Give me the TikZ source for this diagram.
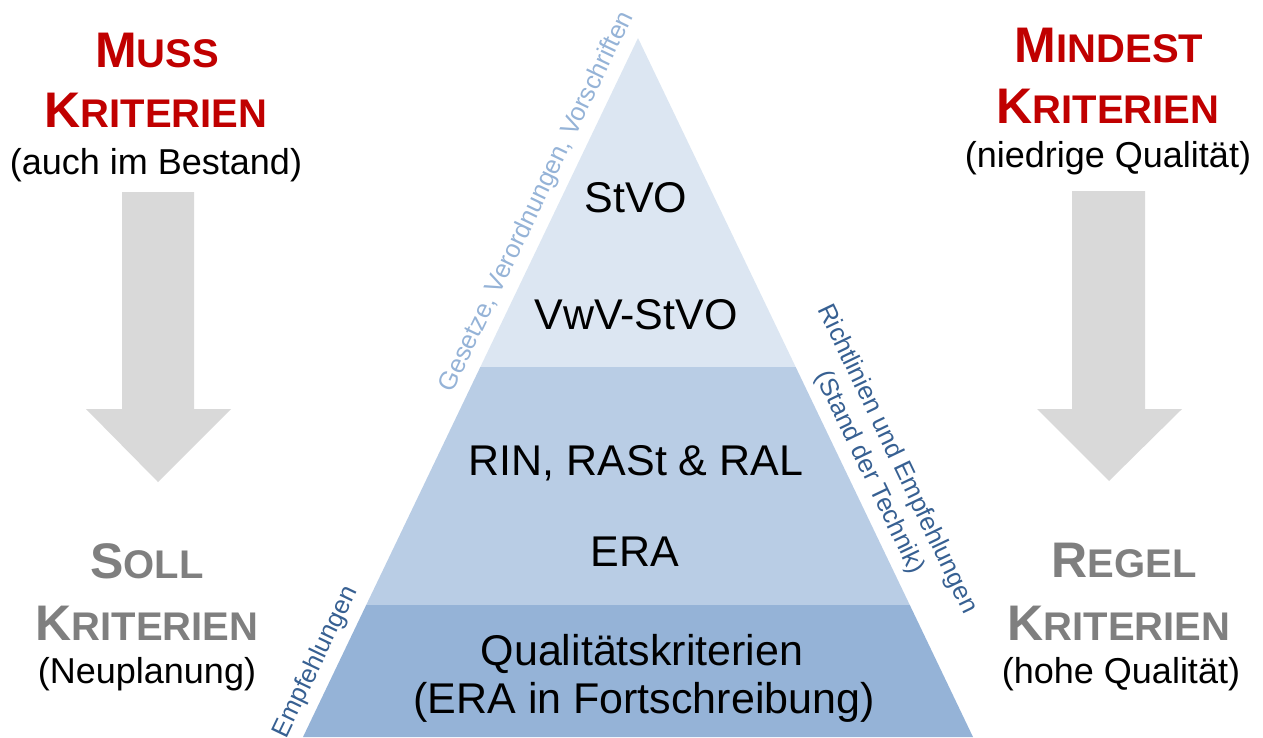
\documentclass[tikz,border=0pt]{standalone}
\usepackage{fontspec}
\setmainfont{Liberation Sans}
\definecolor{redhead}{HTML}{C00000}
\definecolor{grayhead}{HTML}{7F7F7F}
\definecolor{arrowgray}{HTML}{D9D9D9}
\definecolor{bandA}{HTML}{DCE6F2}
\definecolor{bandB}{HTML}{B9CDE5}
\definecolor{bandC}{HTML}{95B3D7}
\definecolor{lightlabel}{HTML}{95B3D7}
\definecolor{darklabel}{HTML}{376092}
\newcommand{\bigsc}[2]{{\fontsize{50}{60}\selectfont #1}{\fontsize{40}{48}\selectfont #2}}
\tikzset{
  head/.style={anchor=base, inner sep=0pt, font=\bfseries},
  sub/.style={anchor=base, inner sep=0pt, font=\fontsize{36}{42}\selectfont, text=black},
  pyr/.style={anchor=base, inner sep=0pt, font=\fontsize{43}{50}\selectfont, text=black},
  edgelabel/.style={inner sep=0pt, font=\fontsize{25.5}{31}\selectfont, align=center},
  bigarrow/.style={fill=arrowgray, draw=none}
}
\begin{document}
\begin{tikzpicture}[x=1pt,y=-1pt]
\useasboundingbox (0,0) rectangle (1263,737);
% pyramid bands
\fill[bandA] (638,38) -- (795.7,367) -- (480.3,367) -- cycle;
\fill[bandB] (480.3,367) -- (795.7,367) -- (909.8,605) -- (366.2,605) -- cycle;
\fill[bandC] (366.2,605) -- (909.8,605) -- (973,737) -- (303,737) -- cycle;
% arrows
\fill[bigarrow] (122,192) -- (194,192) -- (194,409) -- (231,409) -- (158,482) -- (86,409) -- (122,409) -- cycle;
\fill[bigarrow] (1072,191) -- (1145,191) -- (1145,409) -- (1182,409) -- (1109,481) -- (1037,409) -- (1072,409) -- cycle;
% headings left top
\node[head, text=redhead] (muss) at (157,67) {\bigsc{M}{USS}};
\node[head, text=redhead] (krit1) at (156,127) {\bigsc{K}{RITERIEN}};
\node[sub] (bestand) at (156,174) {(auch im Bestand)};
% headings right top
\node[head, text=redhead] (mindest) at (1109,62) {\bigsc{M}{INDEST}};
\node[head, text=redhead] (krit2) at (1108,123) {\bigsc{K}{RITERIEN}};
\node[sub] (niedrig) at (1108,167) {(niedrige Qualität)};
% headings left bottom
\node[head, text=grayhead] (soll) at (147,578) {\bigsc{S}{OLL}};
\node[head, text=grayhead] (krit3) at (147,640) {\bigsc{K}{RITERIEN}};
\node[sub] (neu) at (147,683) {(Neuplanung)};
% headings right bottom
\node[head, text=grayhead] (regel) at (1124,577) {\bigsc{R}{EGEL}};
\node[head, text=grayhead] (krit4) at (1119,640) {\bigsc{K}{RITERIEN}};
\node[sub] (hoch) at (1121,683) {(hohe Qualität)};
% pyramid texts
\node[pyr] (stvo) at (636,212) {StVO};
\node[pyr] (vwv) at (636,329) {VwV-StVO};
\node[pyr] (rin) at (636,475) {RIN, RASt \& RAL};
\node[pyr] (era) at (635,566) {ERA};
\node[pyr] (quali) at (642,665) {Qualitätskriterien};
\node[pyr] (fort) at (644,713) {(ERA in Fortschreibung)};
% edge labels
\node[edgelabel, text=lightlabel, rotate=64.4] (gesetze) at (537,202) {Gesetze, Verordnungen, Vorschriften};
\node[edgelabel, text=darklabel, rotate=-64.4] (richt) at (883,466) {Richtlinien und Empfehlungen\\(Stand der Technik)};
\node[edgelabel, text=darklabel, rotate=64.4] (empf) at (316,662) {Empfehlungen};
\end{tikzpicture}
\end{document}
